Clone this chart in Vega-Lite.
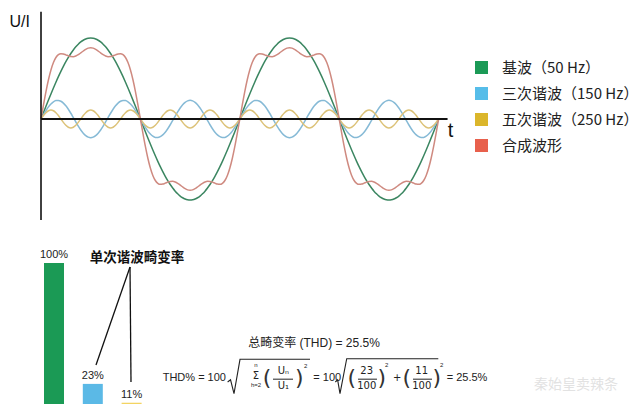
{
"$schema": "https://vega.github.io/schema/vega-lite/v6.json",
"width": 640, "height": 404,
"autosize": {"type": "fit", "contains": "padding"},
"padding": 0,
"background": "white",
"config": {"view": {"stroke": null}},
"resolve": {"scale": {"x": "independent", "y": "independent", "color": "independent"}},
"layer": [
{
"layer": [
{
"data": {"values": [
{"t":0,"g":0,"b":0,"y":0,"r":0},
{"t":0.25,"g":7.85,"b":5.37,"y":4.21,"r":17.43},
{"t":0.5,"g":15.64,"b":10.44,"y":7.78,"r":33.86},
{"t":0.75,"g":23.34,"b":14.94,"y":10.16,"r":48.44},
{"t":1,"g":30.9,"b":18.61,"y":11,"r":60.51},
{"t":1.25,"g":38.27,"b":21.25,"y":10.16,"r":69.68},
{"t":1.5,"g":45.4,"b":22.72,"y":7.78,"r":75.9},
{"t":1.75,"g":52.25,"b":22.93,"y":4.21,"r":79.39},
{"t":2,"g":58.78,"b":21.87,"y":0,"r":80.65},
{"t":2.25,"g":64.94,"b":19.61,"y":-4.21,"r":80.34},
{"t":2.5,"g":70.71,"b":16.26,"y":-7.78,"r":79.19},
{"t":2.75,"g":76.04,"b":12.02,"y":-10.16,"r":77.9},
{"t":3,"g":80.9,"b":7.11,"y":-11,"r":77.01},
{"t":3.25,"g":85.26,"b":1.8,"y":-10.16,"r":76.9},
{"t":3.5,"g":89.1,"b":-3.6,"y":-7.78,"r":77.72},
{"t":3.75,"g":92.39,"b":-8.8,"y":-4.21,"r":79.38},
{"t":4,"g":95.11,"b":-13.52,"y":0,"r":81.59},
{"t":4.25,"g":97.24,"b":-17.49,"y":4.21,"r":83.96},
{"t":4.5,"g":98.77,"b":-20.49,"y":7.78,"r":86.06},
{"t":4.75,"g":99.69,"b":-22.36,"y":10.16,"r":87.49},
{"t":5,"g":100,"b":-23,"y":11,"r":88},
{"t":5.25,"g":99.69,"b":-22.36,"y":10.16,"r":87.49},
{"t":5.5,"g":98.77,"b":-20.49,"y":7.78,"r":86.06},
{"t":5.75,"g":97.24,"b":-17.49,"y":4.21,"r":83.96},
{"t":6,"g":95.11,"b":-13.52,"y":0,"r":81.59},
{"t":6.25,"g":92.39,"b":-8.8,"y":-4.21,"r":79.38},
{"t":6.5,"g":89.1,"b":-3.6,"y":-7.78,"r":77.72},
{"t":6.75,"g":85.26,"b":1.8,"y":-10.16,"r":76.9},
{"t":7,"g":80.9,"b":7.11,"y":-11,"r":77.01},
{"t":7.25,"g":76.04,"b":12.02,"y":-10.16,"r":77.9},
{"t":7.5,"g":70.71,"b":16.26,"y":-7.78,"r":79.19},
{"t":7.75,"g":64.94,"b":19.61,"y":-4.21,"r":80.34},
{"t":8,"g":58.78,"b":21.87,"y":0,"r":80.65},
{"t":8.25,"g":52.25,"b":22.93,"y":4.21,"r":79.39},
{"t":8.5,"g":45.4,"b":22.72,"y":7.78,"r":75.9},
{"t":8.75,"g":38.27,"b":21.25,"y":10.16,"r":69.68},
{"t":9,"g":30.9,"b":18.61,"y":11,"r":60.51},
{"t":9.25,"g":23.34,"b":14.94,"y":10.16,"r":48.44},
{"t":9.5,"g":15.64,"b":10.44,"y":7.78,"r":33.86},
{"t":9.75,"g":7.85,"b":5.37,"y":4.21,"r":17.43},
{"t":10,"g":0,"b":0,"y":0,"r":0},
{"t":10.25,"g":-7.85,"b":-5.37,"y":-4.21,"r":-17.43},
{"t":10.5,"g":-15.64,"b":-10.44,"y":-7.78,"r":-33.86},
{"t":10.75,"g":-23.34,"b":-14.94,"y":-10.16,"r":-48.44},
{"t":11,"g":-30.9,"b":-18.61,"y":-11,"r":-60.51},
{"t":11.25,"g":-38.27,"b":-21.25,"y":-10.16,"r":-69.68},
{"t":11.5,"g":-45.4,"b":-22.72,"y":-7.78,"r":-75.9},
{"t":11.75,"g":-52.25,"b":-22.93,"y":-4.21,"r":-79.39},
{"t":12,"g":-58.78,"b":-21.87,"y":0,"r":-80.65},
{"t":12.25,"g":-64.94,"b":-19.61,"y":4.21,"r":-80.34},
{"t":12.5,"g":-70.71,"b":-16.26,"y":7.78,"r":-79.19},
{"t":12.75,"g":-76.04,"b":-12.02,"y":10.16,"r":-77.9},
{"t":13,"g":-80.9,"b":-7.11,"y":11,"r":-77.01},
{"t":13.25,"g":-85.26,"b":-1.8,"y":10.16,"r":-76.9},
{"t":13.5,"g":-89.1,"b":3.6,"y":7.78,"r":-77.72},
{"t":13.75,"g":-92.39,"b":8.8,"y":4.21,"r":-79.38},
{"t":14,"g":-95.11,"b":13.52,"y":0,"r":-81.59},
{"t":14.25,"g":-97.24,"b":17.49,"y":-4.21,"r":-83.96},
{"t":14.5,"g":-98.77,"b":20.49,"y":-7.78,"r":-86.06},
{"t":14.75,"g":-99.69,"b":22.36,"y":-10.16,"r":-87.49},
{"t":15,"g":-100,"b":23,"y":-11,"r":-88},
{"t":15.25,"g":-99.69,"b":22.36,"y":-10.16,"r":-87.49},
{"t":15.5,"g":-98.77,"b":20.49,"y":-7.78,"r":-86.06},
{"t":15.75,"g":-97.24,"b":17.49,"y":-4.21,"r":-83.96},
{"t":16,"g":-95.11,"b":13.52,"y":0,"r":-81.59},
{"t":16.25,"g":-92.39,"b":8.8,"y":4.21,"r":-79.38},
{"t":16.5,"g":-89.1,"b":3.6,"y":7.78,"r":-77.72},
{"t":16.75,"g":-85.26,"b":-1.8,"y":10.16,"r":-76.9},
{"t":17,"g":-80.9,"b":-7.11,"y":11,"r":-77.01},
{"t":17.25,"g":-76.04,"b":-12.02,"y":10.16,"r":-77.9},
{"t":17.5,"g":-70.71,"b":-16.26,"y":7.78,"r":-79.19},
{"t":17.75,"g":-64.94,"b":-19.61,"y":4.21,"r":-80.34},
{"t":18,"g":-58.78,"b":-21.87,"y":0,"r":-80.65},
{"t":18.25,"g":-52.25,"b":-22.93,"y":-4.21,"r":-79.39},
{"t":18.5,"g":-45.4,"b":-22.72,"y":-7.78,"r":-75.9},
{"t":18.75,"g":-38.27,"b":-21.25,"y":-10.16,"r":-69.68},
{"t":19,"g":-30.9,"b":-18.61,"y":-11,"r":-60.51},
{"t":19.25,"g":-23.34,"b":-14.94,"y":-10.16,"r":-48.44},
{"t":19.5,"g":-15.64,"b":-10.44,"y":-7.78,"r":-33.86},
{"t":19.75,"g":-7.85,"b":-5.37,"y":-4.21,"r":-17.43},
{"t":20,"g":0,"b":0,"y":0,"r":0},
{"t":20.25,"g":7.85,"b":5.37,"y":4.21,"r":17.43},
{"t":20.5,"g":15.64,"b":10.44,"y":7.78,"r":33.86},
{"t":20.75,"g":23.34,"b":14.94,"y":10.16,"r":48.44},
{"t":21,"g":30.9,"b":18.61,"y":11,"r":60.51},
{"t":21.25,"g":38.27,"b":21.25,"y":10.16,"r":69.68},
{"t":21.5,"g":45.4,"b":22.72,"y":7.78,"r":75.9},
{"t":21.75,"g":52.25,"b":22.93,"y":4.21,"r":79.39},
{"t":22,"g":58.78,"b":21.87,"y":0,"r":80.65},
{"t":22.25,"g":64.94,"b":19.61,"y":-4.21,"r":80.34},
{"t":22.5,"g":70.71,"b":16.26,"y":-7.78,"r":79.19},
{"t":22.75,"g":76.04,"b":12.02,"y":-10.16,"r":77.9},
{"t":23,"g":80.9,"b":7.11,"y":-11,"r":77.01},
{"t":23.25,"g":85.26,"b":1.8,"y":-10.16,"r":76.9},
{"t":23.5,"g":89.1,"b":-3.6,"y":-7.78,"r":77.72},
{"t":23.75,"g":92.39,"b":-8.8,"y":-4.21,"r":79.38},
{"t":24,"g":95.11,"b":-13.52,"y":0,"r":81.59},
{"t":24.25,"g":97.24,"b":-17.49,"y":4.21,"r":83.96},
{"t":24.5,"g":98.77,"b":-20.49,"y":7.78,"r":86.06},
{"t":24.75,"g":99.69,"b":-22.36,"y":10.16,"r":87.49},
{"t":25,"g":100,"b":-23,"y":11,"r":88},
{"t":25.25,"g":99.69,"b":-22.36,"y":10.16,"r":87.49},
{"t":25.5,"g":98.77,"b":-20.49,"y":7.78,"r":86.06},
{"t":25.75,"g":97.24,"b":-17.49,"y":4.21,"r":83.96},
{"t":26,"g":95.11,"b":-13.52,"y":0,"r":81.59},
{"t":26.25,"g":92.39,"b":-8.8,"y":-4.21,"r":79.38},
{"t":26.5,"g":89.1,"b":-3.6,"y":-7.78,"r":77.72},
{"t":26.75,"g":85.26,"b":1.8,"y":-10.16,"r":76.9},
{"t":27,"g":80.9,"b":7.11,"y":-11,"r":77.01},
{"t":27.25,"g":76.04,"b":12.02,"y":-10.16,"r":77.9},
{"t":27.5,"g":70.71,"b":16.26,"y":-7.78,"r":79.19},
{"t":27.75,"g":64.94,"b":19.61,"y":-4.21,"r":80.34},
{"t":28,"g":58.78,"b":21.87,"y":0,"r":80.65},
{"t":28.25,"g":52.25,"b":22.93,"y":4.21,"r":79.39},
{"t":28.5,"g":45.4,"b":22.72,"y":7.78,"r":75.9},
{"t":28.75,"g":38.27,"b":21.25,"y":10.16,"r":69.68},
{"t":29,"g":30.9,"b":18.61,"y":11,"r":60.51},
{"t":29.25,"g":23.34,"b":14.94,"y":10.16,"r":48.44},
{"t":29.5,"g":15.64,"b":10.44,"y":7.78,"r":33.86},
{"t":29.75,"g":7.85,"b":5.37,"y":4.21,"r":17.43},
{"t":30,"g":0,"b":0,"y":0,"r":0},
{"t":30.25,"g":-7.85,"b":-5.37,"y":-4.21,"r":-17.43},
{"t":30.5,"g":-15.64,"b":-10.44,"y":-7.78,"r":-33.86},
{"t":30.75,"g":-23.34,"b":-14.94,"y":-10.16,"r":-48.44},
{"t":31,"g":-30.9,"b":-18.61,"y":-11,"r":-60.51},
{"t":31.25,"g":-38.27,"b":-21.25,"y":-10.16,"r":-69.68},
{"t":31.5,"g":-45.4,"b":-22.72,"y":-7.78,"r":-75.9},
{"t":31.75,"g":-52.25,"b":-22.93,"y":-4.21,"r":-79.39},
{"t":32,"g":-58.78,"b":-21.87,"y":0,"r":-80.65},
{"t":32.25,"g":-64.94,"b":-19.61,"y":4.21,"r":-80.34},
{"t":32.5,"g":-70.71,"b":-16.26,"y":7.78,"r":-79.19},
{"t":32.75,"g":-76.04,"b":-12.02,"y":10.16,"r":-77.9},
{"t":33,"g":-80.9,"b":-7.11,"y":11,"r":-77.01},
{"t":33.25,"g":-85.26,"b":-1.8,"y":10.16,"r":-76.9},
{"t":33.5,"g":-89.1,"b":3.6,"y":7.78,"r":-77.72},
{"t":33.75,"g":-92.39,"b":8.8,"y":4.21,"r":-79.38},
{"t":34,"g":-95.11,"b":13.52,"y":0,"r":-81.59},
{"t":34.25,"g":-97.24,"b":17.49,"y":-4.21,"r":-83.96},
{"t":34.5,"g":-98.77,"b":20.49,"y":-7.78,"r":-86.06},
{"t":34.75,"g":-99.69,"b":22.36,"y":-10.16,"r":-87.49},
{"t":35,"g":-100,"b":23,"y":-11,"r":-88},
{"t":35.25,"g":-99.69,"b":22.36,"y":-10.16,"r":-87.49},
{"t":35.5,"g":-98.77,"b":20.49,"y":-7.78,"r":-86.06},
{"t":35.75,"g":-97.24,"b":17.49,"y":-4.21,"r":-83.96},
{"t":36,"g":-95.11,"b":13.52,"y":0,"r":-81.59},
{"t":36.25,"g":-92.39,"b":8.8,"y":4.21,"r":-79.38},
{"t":36.5,"g":-89.1,"b":3.6,"y":7.78,"r":-77.72},
{"t":36.75,"g":-85.26,"b":-1.8,"y":10.16,"r":-76.9},
{"t":37,"g":-80.9,"b":-7.11,"y":11,"r":-77.01},
{"t":37.25,"g":-76.04,"b":-12.02,"y":10.16,"r":-77.9},
{"t":37.5,"g":-70.71,"b":-16.26,"y":7.78,"r":-79.19},
{"t":37.75,"g":-64.94,"b":-19.61,"y":4.21,"r":-80.34},
{"t":38,"g":-58.78,"b":-21.87,"y":0,"r":-80.65},
{"t":38.25,"g":-52.25,"b":-22.93,"y":-4.21,"r":-79.39},
{"t":38.5,"g":-45.4,"b":-22.72,"y":-7.78,"r":-75.9},
{"t":38.75,"g":-38.27,"b":-21.25,"y":-10.16,"r":-69.68},
{"t":39,"g":-30.9,"b":-18.61,"y":-11,"r":-60.51},
{"t":39.25,"g":-23.34,"b":-14.94,"y":-10.16,"r":-48.44},
{"t":39.5,"g":-15.64,"b":-10.44,"y":-7.78,"r":-33.86},
{"t":39.75,"g":-7.85,"b":-5.37,"y":-4.21,"r":-17.43},
{"t":40,"g":0,"b":0,"y":0,"r":0}
]},
"transform": [{"fold": ["g", "b", "y", "r"], "as": ["s", "v"]}],
"mark": {"type": "line", "strokeWidth": 1.5, "interpolate": "monotone"},
"encoding": {
"x": {"field": "t", "type": "quantitative", "scale": {"domain": [-4.125, 60.26], "nice": false, "zero": false, "padding": 0}, "axis": null},
"y": {"field": "v", "type": "quantitative", "scale": {"domain": [-351.85, 146.91], "nice": false, "zero": false, "padding": 0}, "axis": null},
"color": {"field": "s", "type": "nominal", "scale": {"domain": ["g", "b", "y", "r"], "range": ["#3b8661", "#86bad6", "#dcc278", "#cf8a80"]}, "legend": null}
}
},
{
"data": {"values": [{}]},
"mark": {"type": "rule", "color": "#111", "strokeWidth": 1.6},
"encoding": {"x": {"datum": 0, "type": "quantitative"}, "y": {"datum": -124.7, "type": "quantitative"}, "y2": {"datum": 132.5}}
},
{
"data": {"values": [{}]},
"mark": {"type": "rule", "color": "#111", "strokeWidth": 2},
"encoding": {"x": {"datum": 0, "type": "quantitative"}, "x2": {"datum": 40.9}, "y": {"datum": 0, "type": "quantitative"}}
},
{
"data": {"values": [{}]},
"mark": {"type": "text", "text": "U/I", "font": "Liberation Sans", "fontSize": 16, "color": "#111", "align": "center", "baseline": "middle"},
"encoding": {"x": {"datum": -2.14, "type": "quantitative"}, "y": {"datum": 119.75, "type": "quantitative"}}
},
{
"data": {"values": [{}]},
"mark": {"type": "text", "text": "t", "font": "Liberation Sans", "fontSize": 20, "color": "#111", "align": "center", "baseline": "middle"},
"encoding": {"x": {"datum": 41.21, "type": "quantitative"}, "y": {"datum": -14.8, "type": "quantitative"}}
},
{
"data": {"values": [{"s": "g"}, {"s": "b"}, {"s": "y"}, {"s": "r"}]},
"mark": {"type": "square", "opacity": 0, "size": 100},
"encoding": {
"fill": {"field": "s", "type": "nominal", "scale": {"domain": ["g", "b", "y", "r"], "range": ["#1b9a56", "#56bde9", "#dbb62b", "#e8604c"]},
"legend": {"orient": "none", "legendX": 474, "legendY": 60, "title": null, "symbolType": "square", "symbolSize": 169, "symbolStrokeWidth": 0, "symbolOpacity": 1, "labelFont": "Noto Sans CJK SC", "labelFontSize": 15, "labelColor": "#222", "labelOffset": 13, "rowPadding": 10, "labelLimit": 200,
"labelExpr": "datum.label == 'g' ? '基波（50 Hz）' : datum.label == 'b' ? '三次谐波（150 Hz）' : datum.label == 'y' ? '五次谐波（250 Hz）' : '合成波形'"}}
}
}
]
},
{
"layer": [
{
"data": {"values": [{"h": 1, "p": 100, "c": "g", "lbl": "100%"}, {"h": 3, "p": 23, "c": "b", "lbl": "23%"}, {"h": 5, "p": 11, "c": "y", "lbl": "11%"}]},
"layer": [
{
"mark": {"type": "bar", "width": 20, "clip": true},
"encoding": {
"x": {"field": "h", "type": "quantitative", "scale": {"domain": [-1.7835, 31.206], "nice": false, "zero": false, "padding": 0}, "axis": null},
"y": {"field": "p", "type": "quantitative", "scale": {"domain": [10.19, 267.52], "nice": false, "zero": false, "padding": 0}, "axis": null},
"color": {"field": "c", "type": "nominal", "scale": {"domain": ["g", "b", "y"], "range": ["#1b9a55", "#5bb9e6", "#f3d462"]}, "legend": null}
}
},
{
"mark": {"type": "text", "dy": -5, "baseline": "alphabetic", "align": "center", "font": "Liberation Sans", "fontSize": 11, "color": "#222"},
"encoding": {"x": {"field": "h", "type": "quantitative"}, "y": {"field": "p", "type": "quantitative"}, "text": {"field": "lbl"}}
}
]
},
{
"data": {"values": [{"x1": 4.918, "y1": 97.45, "x2": 3.165, "y2": 35.03}, {"x1": 4.918, "y1": 97.45, "x2": 4.969, "y2": 24.2}]},
"mark": {"type": "rule", "color": "#111", "strokeWidth": 1.3},
"encoding": {"x": {"field": "x1", "type": "quantitative"}, "y": {"field": "y1", "type": "quantitative"}, "x2": {"field": "x2"}, "y2": {"field": "y2"}}
},
{
"data": {"values": [{"x": 5.28, "y": 103.2, "txt": "单次谐波畸变率"}]},
"mark": {"type": "text", "font": "Noto Sans CJK SC", "fontSize": 13.5, "fontWeight": "bold", "color": "#111", "align": "center", "baseline": "middle"},
"encoding": {"x": {"field": "x", "type": "quantitative"}, "y": {"field": "y", "type": "quantitative"}, "text": {"field": "txt"}}
},
{
"data": {"values": [{"x": 14.402, "y": 49.04, "txt": "总畸变率 (THD) = 25.5%"}]},
"mark": {"type": "text", "font": "Liberation Sans, Noto Sans CJK SC", "fontSize": 12, "color": "#222", "align": "center", "baseline": "middle"},
"encoding": {"x": {"field": "x", "type": "quantitative"}, "y": {"field": "y", "type": "quantitative"}, "text": {"field": "txt"}}
},
{
"data": {"values": [{"x": 6.603, "y": 26.75, "txt": "THD% = 100"}, {"x": 14.366, "y": 26.75, "txt": "= 100"}, {"x": 21.242, "y": 26.75, "txt": "= 25.5%"}]},
"mark": {"type": "text", "font": "Liberation Sans", "fontSize": 11, "color": "#222", "align": "left", "baseline": "middle"},
"encoding": {"x": {"field": "x", "type": "quantitative"}, "y": {"field": "y", "type": "quantitative"}, "text": {"field": "txt"}}
},
{
"data": {"values": [{"x": 12.82, "y": 31.2, "txt": "Uₙ"}, {"x": 12.82, "y": 21.8, "txt": "U₁"}, {"x": 17.119, "y": 31.2, "txt": "23"}, {"x": 17.119, "y": 21.8, "txt": "100"}, {"x": 19.954, "y": 31.2, "txt": "11"}, {"x": 19.954, "y": 21.8, "txt": "100"}, {"x": 18.696, "y": 26.6, "txt": "+"}, {"x": 11.412, "y": 28.0, "txt": "Σ"}]},
"mark": {"type": "text", "font": "DejaVu Sans", "fontSize": 10, "color": "#222", "align": "center", "baseline": "middle"},
"encoding": {"x": {"field": "x", "type": "quantitative"}, "y": {"field": "y", "type": "quantitative"}, "text": {"field": "txt"}}
},
{
"data": {"values": [{"x": 11.412, "y": 34.8, "txt": "n"}, {"x": 11.412, "y": 22.1, "txt": "h=2"}, {"x": 13.974, "y": 34.6, "txt": "2"}, {"x": 18.149, "y": 35.0, "txt": "2"}, {"x": 20.985, "y": 35.0, "txt": "2"}]},
"mark": {"type": "text", "font": "Liberation Sans", "fontSize": 6, "color": "#222", "align": "center", "baseline": "middle"},
"encoding": {"x": {"field": "x", "type": "quantitative"}, "y": {"field": "y", "type": "quantitative"}, "text": {"field": "txt"}}
},
{
"data": {"values": [{"x": 11.979, "y": 26.6, "txt": "("}, {"x": 13.644, "y": 26.6, "txt": ")"}, {"x": 16.345, "y": 26.6, "txt": "("}, {"x": 17.892, "y": 26.6, "txt": ")"}, {"x": 19.18, "y": 26.6, "txt": "("}, {"x": 20.727, "y": 26.6, "txt": ")"}]},
"mark": {"type": "text", "font": "DejaVu Sans", "fontSize": 22, "color": "#333", "align": "center", "baseline": "middle"},
"encoding": {"x": {"field": "x", "type": "quantitative"}, "y": {"field": "y", "type": "quantitative"}, "text": {"field": "txt"}}
},
{
"data": {"values": [{"x1": 12.289, "x2": 13.32, "y": 26}, {"x1": 16.67, "x2": 17.649, "y": 26}, {"x1": 19.505, "x2": 20.485, "y": 26}]},
"mark": {"type": "rule", "color": "#222", "strokeWidth": 1},
"encoding": {"x": {"field": "x1", "type": "quantitative"}, "x2": {"field": "x2"}, "y": {"field": "y", "type": "quantitative"}}
},
{
"data": {"values": [
{"id": 1, "x": 9.95, "y": 24.2}, {"id": 1, "x": 10.1, "y": 25.6}, {"id": 1, "x": 10.278, "y": 16.75}, {"id": 1, "x": 10.588, "y": 38.66}, {"id": 1, "x": 14.196, "y": 38.66},
{"id": 2, "x": 15.5, "y": 24.2}, {"id": 2, "x": 15.62, "y": 25.6}, {"id": 2, "x": 15.742, "y": 16.75}, {"id": 2, "x": 16.088, "y": 39.04}, {"id": 2, "x": 20.809, "y": 39.04}
]},
"mark": {"type": "line", "color": "#222", "strokeWidth": 1.1},
"encoding": {"x": {"field": "x", "type": "quantitative"}, "y": {"field": "y", "type": "quantitative"}, "detail": {"field": "id", "type": "nominal"}}
},
{
"data": {"values": [{"x": 27.91, "y": 22.3, "txt": "秦始皇卖辣条"}]},
"mark": {"type": "text", "font": "Noto Sans CJK SC", "fontSize": 14, "color": "#e2e2e2", "align": "center", "baseline": "middle"},
"encoding": {"x": {"field": "x", "type": "quantitative"}, "y": {"field": "y", "type": "quantitative"}, "text": {"field": "txt"}}
}
]
}
]
}
